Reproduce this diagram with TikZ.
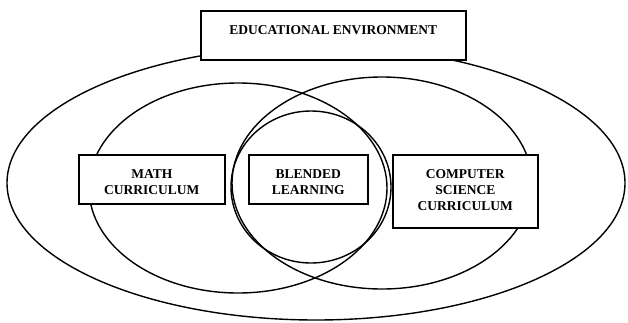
\documentclass[tikz,border=0pt]{standalone}
\usepackage{fontspec}
\setmainfont{Liberation Serif}
\begin{document}
\begin{tikzpicture}[x=1pt,y=-1pt,
  ring/.style={draw=black, line width=1.4pt},
  box/.style={draw=black, line width=1.6pt, fill=white, rectangle, inner sep=0pt, anchor=north west},
  lbl/.style={anchor=north, inner sep=0pt, align=center, font=\bfseries\fontsize{13.5}{16}\selectfont}
]
\useasboundingbox (0,0) rectangle (628,322);
% ellipses
\draw[ring] (316,183) ellipse [x radius=309, y radius=137];
\draw[ring] (238,188) ellipse [x radius=149, y radius=105];
\draw[ring] (382,183) ellipse [x radius=150, y radius=106];
\draw[ring] (311,187) ellipse [x radius=80, y radius=76];
% boxes
\node[box, minimum width=265pt, minimum height=49pt] (edu) at (200,10) {};
\node[box, minimum width=146pt, minimum height=49pt] (math) at (78,154) {};
\node[box, minimum width=119pt, minimum height=49pt] (blend) at (248,154) {};
\node[box, minimum width=145pt, minimum height=73pt] (cs) at (392,154) {};
% labels
\node[lbl] (edut) at ([yshift=-15pt]edu.north) {EDUCATIONAL ENVIRONMENT};
\node[lbl] (matht) at ([yshift=-15pt]math.north) {MATH\\CURRICULUM};
\node[lbl] (blendt) at ([yshift=-15pt]blend.north) {BLENDED\\LEARNING};
\node[lbl] (cst) at ([yshift=-15pt]cs.north) {COMPUTER\\SCIENCE\\CURRICULUM};
\end{tikzpicture}
\end{document}
